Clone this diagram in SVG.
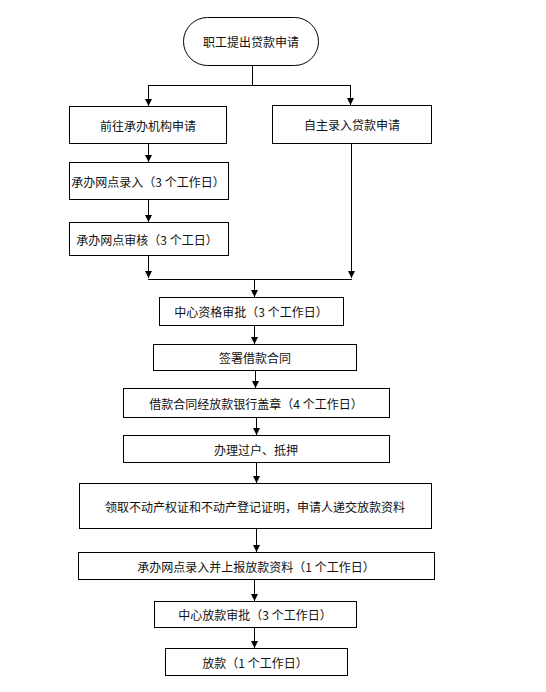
<svg xmlns="http://www.w3.org/2000/svg" width="546" height="692" viewBox="0 0 546 692">
<style>
.box{fill:#fff;stroke:#000;stroke-width:1}
.t{font-family:"Noto Sans CJK SC","Liberation Sans",sans-serif;font-size:12px;fill:#111;text-anchor:middle;dominant-baseline:central}
.c{fill:none;stroke:#000;stroke-width:1}
</style>
<defs>
<marker id="ah" markerUnits="userSpaceOnUse" markerWidth="8" markerHeight="8" refX="7" refY="4" orient="auto">
<path d="M0,0.5 L7,4 L0,7.5 z" fill="#000"/>
</marker>
</defs>
<rect width="546" height="692" fill="#fff"/>
<g id="connectors">
<path class="c" d="M252.5,65 V85.5 M148,85.5 H351"/>
<path class="c" d="M148.5,85.5 V106" marker-end="url(#ah)"/>
<path class="c" d="M350.5,85.5 V105" marker-end="url(#ah)"/>
<path class="c" d="M148.5,143 V162" marker-end="url(#ah)"/>
<path class="c" d="M148.5,199 V222" marker-end="url(#ah)"/>
<path class="c" d="M148.5,255 V278" marker-end="url(#ah)"/>
<path class="c" d="M351.5,143 V278" marker-end="url(#ah)"/>
<path class="c" d="M148,279.5 H352"/>
<path class="c" d="M254.5,279.5 V297" marker-end="url(#ah)"/>
<path class="c" d="M254.5,325 V344" marker-end="url(#ah)"/>
<path class="c" d="M255.5,370 V388" marker-end="url(#ah)"/>
<path class="c" d="M256.5,417 V435" marker-end="url(#ah)"/>
<path class="c" d="M256.5,462 V483" marker-end="url(#ah)"/>
<path class="c" d="M256.5,528 V552" marker-end="url(#ah)"/>
<path class="c" d="M254.5,579 V601" marker-end="url(#ah)"/>
<path class="c" d="M254.5,627 V648" marker-end="url(#ah)"/>
</g>
<g id="start">
<rect class="box" x="183.5" y="17.5" width="135" height="48" rx="24"/>
<text class="t" x="251" y="41.5">职工提出贷款申请</text>
</g>
<g id="n1">
<rect class="box" x="69.5" y="106.5" width="157" height="37"/>
<text class="t" x="148" y="125">前往承办机构申请</text>
</g>
<g id="n2">
<rect class="box" x="272.5" y="105.5" width="159" height="38"/>
<text class="t" x="352" y="124.5">自主录入贷款申请</text>
</g>
<g id="n3">
<rect class="box" x="69.5" y="162.5" width="159" height="37"/>
<text class="t" x="148" y="181">承办网点录入（3 个工作日）</text>
</g>
<g id="n4">
<rect class="box" x="69.5" y="222.5" width="159" height="33"/>
<text class="t" x="147" y="239">承办网点审核（3 个工日）</text>
</g>
<g id="n5">
<rect class="box" x="159.5" y="297.5" width="184" height="28"/>
<text class="t" x="251" y="311.5">中心资格审批（3 个工作日）</text>
</g>
<g id="n6">
<rect class="box" x="153.5" y="344.5" width="203" height="26"/>
<text class="t" x="255" y="357.5">签署借款合同</text>
</g>
<g id="n7">
<rect class="box" x="123.5" y="388.5" width="266" height="29"/>
<text class="t" x="256" y="403">借款合同经放款银行盖章（4 个工作日）</text>
</g>
<g id="n8">
<rect class="box" x="123.5" y="435.5" width="266" height="27"/>
<text class="t" x="256" y="449">办理过户、抵押</text>
</g>
<g id="n9">
<rect class="box" x="79.5" y="483.5" width="352" height="45"/>
<text class="t" x="255" y="506">领取不动产权证和不动产登记证明，申请人递交放款资料</text>
</g>
<g id="n10">
<rect class="box" x="78.5" y="552.5" width="356" height="27"/>
<text class="t" x="256" y="566">承办网点录入并上报放款资料（1 个工作日）</text>
</g>
<g id="n11">
<rect class="box" x="154.5" y="601.5" width="202" height="26"/>
<text class="t" x="255" y="614.5">中心放款审批（3 个工作日）</text>
</g>
<g id="n12">
<rect class="box" x="165.5" y="648.5" width="182" height="27"/>
<text class="t" x="255" y="662">放款（1 个工作日）</text>
</g>
</svg>
